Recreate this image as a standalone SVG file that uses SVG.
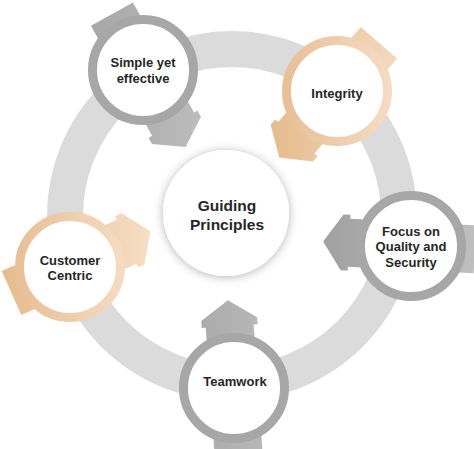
<svg xmlns="http://www.w3.org/2000/svg" width="474" height="449" viewBox="0 0 474 449">
<defs>
<style>
.lbl{font-family:"Liberation Sans",Arial,sans-serif;font-weight:bold;font-size:13px;fill:#262626;text-anchor:middle}
.big{font-size:15.5px}
.gring{fill:#fff;stroke:#a7a7a7;stroke-width:9}
.tring{fill:#fff;stroke:url(#tanR);stroke-width:9}
</style>
<linearGradient id="tanR" x1="0" y1="0" x2="1" y2="0">
<stop offset="0" stop-color="#e8c097"/><stop offset="1" stop-color="#f4dbc1"/>
</linearGradient>
<linearGradient id="gS" gradientUnits="userSpaceOnUse" x1="-90" y1="0" x2="90" y2="0" gradientTransform="rotate(-61)">
<stop offset="0" stop-color="#9f9f9f"/><stop offset="1" stop-color="#c3c3c3"/>
</linearGradient>
<linearGradient id="gI" gradientUnits="userSpaceOnUse" x1="-90" y1="0" x2="90" y2="0" gradientTransform="rotate(-131)">
<stop offset="0" stop-color="#e2b684"/><stop offset="1" stop-color="#f7e0c8"/>
</linearGradient>
<linearGradient id="gF" gradientUnits="userSpaceOnUse" x1="-90" y1="0" x2="90" y2="0" gradientTransform="rotate(-183)">
<stop offset="0" stop-color="#a0a0a0"/><stop offset="1" stop-color="#c4c4c4"/>
</linearGradient>
<linearGradient id="gT" gradientUnits="userSpaceOnUse" x1="-90" y1="0" x2="90" y2="0" gradientTransform="rotate(94)">
<stop offset="0" stop-color="#a0a0a0"/><stop offset="1" stop-color="#c4c4c4"/>
</linearGradient>
<linearGradient id="gC" gradientUnits="userSpaceOnUse" x1="-90" y1="0" x2="90" y2="0" gradientTransform="rotate(24)">
<stop offset="0" stop-color="#e2b684"/><stop offset="1" stop-color="#f7e0c8"/>
</linearGradient>
<polygon id="arr" points="-64,-24 62,-24 62,-28 69,-28 88,0 69,28 62,28 62,24 -64,24"/>
<filter id="sh" x="-30%" y="-30%" width="160%" height="160%">
<feDropShadow dx="0" dy="1" stdDeviation="5" flood-color="#000" flood-opacity="0.3"/>
</filter>
</defs>
<rect width="474" height="449" fill="#fff"/>
<g id="connectors">
<circle cx="232" cy="216" r="167" fill="none" stroke="#dbdbdb" stroke-width="36"/>
</g>
<g id="center">
<circle cx="226" cy="213" r="63" fill="#fff" filter="url(#sh)"/>
<text class="lbl big" x="227" y="211">Guiding</text>
<text class="lbl big" x="227" y="229.5">Principles</text>
</g>
<g id="simple">
<g transform="translate(143,70) rotate(61)"><use href="#arr" fill="url(#gS)"/></g>
<circle class="gring" cx="143" cy="70" r="50.5"/>
<text class="lbl" x="143" y="67">Simple yet</text>
<text class="lbl" x="143" y="82.5">effective</text>
</g>
<g id="integrity">
<g transform="translate(337,91) rotate(131)"><use href="#arr" fill="url(#gI)"/></g>
<circle class="tring" cx="337" cy="91" r="50.5"/>
<text class="lbl" x="337" y="98">Integrity</text>
</g>
<g id="focus">
<g transform="translate(411,246) rotate(183)"><use href="#arr" fill="url(#gF)"/></g>
<circle class="gring" cx="411" cy="246" r="50.5"/>
<text class="lbl" x="411" y="235.5">Focus on</text>
<text class="lbl" x="411" y="251">Quality and</text>
<text class="lbl" x="411" y="266.5">Security</text>
</g>
<g id="teamwork">
<g transform="translate(234,388) rotate(-94)"><use href="#arr" fill="url(#gT)"/></g>
<circle class="gring" cx="234" cy="388" r="50.5"/>
<text class="lbl" x="235" y="386">Teamwork</text>
</g>
<g id="customer">
<g transform="translate(70,267) rotate(-24)"><use href="#arr" fill="url(#gC)"/></g>
<circle class="tring" cx="70" cy="267" r="50.5"/>
<text class="lbl" x="70" y="264.5">Customer</text>
<text class="lbl" x="70" y="280">Centric</text>
</g>
</svg>
